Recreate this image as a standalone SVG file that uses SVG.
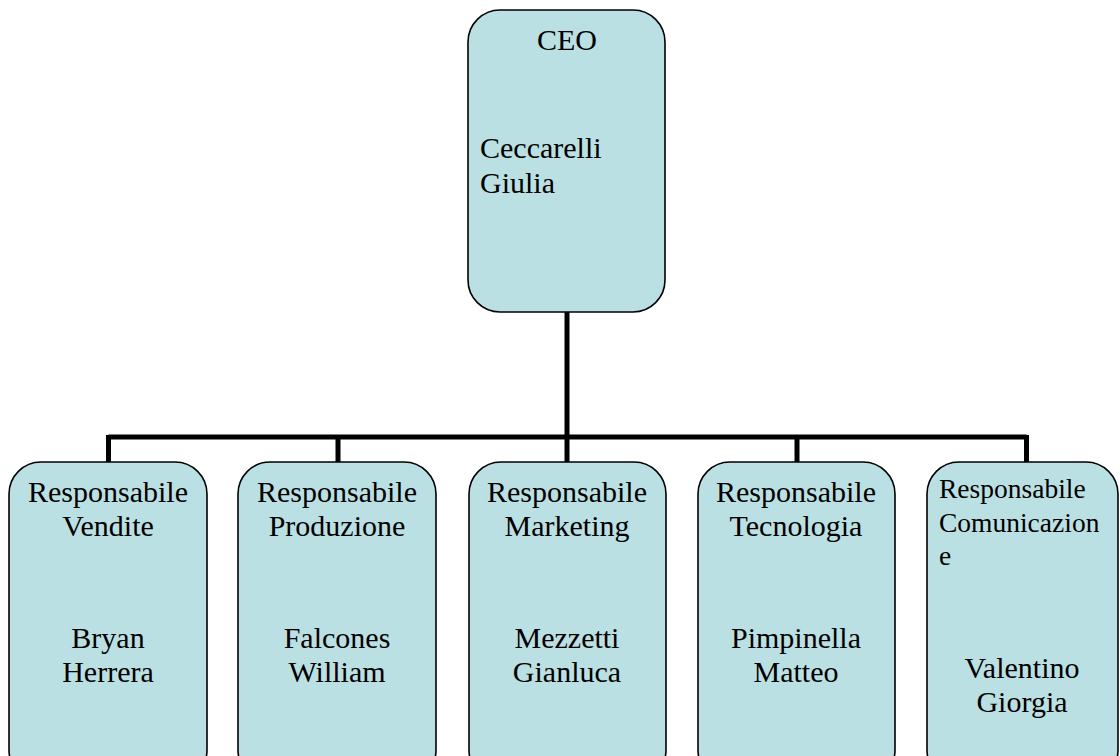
<svg xmlns="http://www.w3.org/2000/svg" width="1120" height="756" viewBox="0 0 1120 756">
<style>
.box{fill:#BBE0E3;stroke:#000;stroke-width:1.6}
.t{font-family:"Liberation Serif","Times New Roman",serif;font-size:30px;fill:#000}
.c{text-anchor:middle}
.s{font-size:27.5px}
.ln{stroke:#000;stroke-width:5;fill:none}
</style>
<rect width="1120" height="756" fill="#fff"/>
<g id="connectors">
<path class="ln" d="M567,312 V437 M108.5,437 H1026.5"/>
<path class="ln" stroke-width="4" d="M108.5,435 V462 M338,437 V462 M567,437 V462 M797,437 V462 M1026.5,435 V462"/>
</g>
<g id="ceo">
<rect class="box" x="468" y="10" width="197" height="302" rx="32"/>
<text class="t c" x="567" y="50">CEO</text>
<text class="t" x="480" y="158">Ceccarelli</text>
<text class="t" x="480" y="193">Giulia</text>
</g>
<g id="vendite">
<rect class="box" x="9" y="462" width="198" height="320" rx="32"/>
<text class="t c" x="108" y="502">Responsabile</text>
<text class="t c" x="108" y="536">Vendite</text>
<text class="t c" x="108" y="648">Bryan</text>
<text class="t c" x="108" y="682">Herrera</text>
</g>
<g id="produzione">
<rect class="box" x="238" y="462" width="198" height="320" rx="32"/>
<text class="t c" x="337" y="502">Responsabile</text>
<text class="t c" x="337" y="536">Produzione</text>
<text class="t c" x="337" y="648">Falcones</text>
<text class="t c" x="337" y="682">William</text>
</g>
<g id="marketing">
<rect class="box" x="469" y="462" width="197" height="320" rx="32"/>
<text class="t c" x="567" y="502">Responsabile</text>
<text class="t c" x="567" y="536">Marketing</text>
<text class="t c" x="567" y="648">Mezzetti</text>
<text class="t c" x="567" y="682">Gianluca</text>
</g>
<g id="tecnologia">
<rect class="box" x="698" y="462" width="197" height="320" rx="32"/>
<text class="t c" x="796" y="502">Responsabile</text>
<text class="t c" x="796" y="536">Tecnologia</text>
<text class="t c" x="796" y="648">Pimpinella</text>
<text class="t c" x="796" y="682">Matteo</text>
</g>
<g id="comunicazione">
<rect class="box" x="927" y="462" width="191" height="320" rx="32"/>
<text class="t s" x="939" y="498">Responsabile</text>
<text class="t s" x="939" y="532">Comunicazion</text>
<text class="t s" x="939" y="565">e</text>
<text class="t c" x="1022" y="678">Valentino</text>
<text class="t c" x="1022" y="712">Giorgia</text>
</g>
</svg>
